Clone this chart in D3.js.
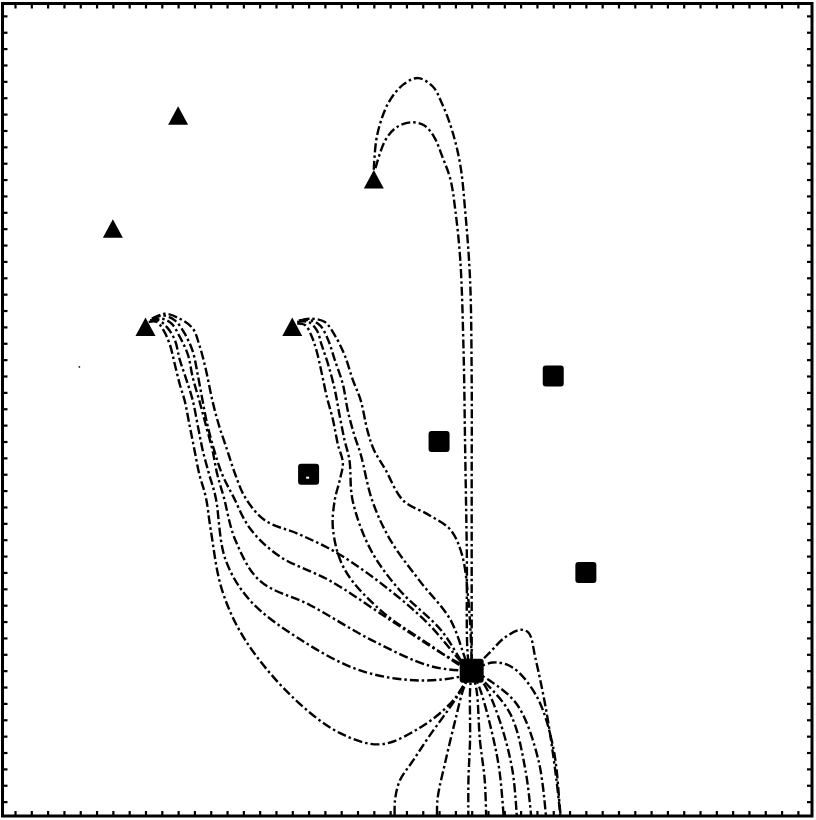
<!DOCTYPE html>
<html><head><meta charset="utf-8">
<script src="https://cdn.jsdelivr.net/npm/d3@7"></script>
<style>html,body{margin:0;padding:0;background:#fff}</style>
</head><body><svg id="chart" width="816" height="820"></svg>
<script>
// marker positions (data units)
const triangles = [[11,42.9],[7,36],[23,39],[9,30],[18,30]];
const squares = [[34,27],[27,23],[19,21],[36,15],[29,9]];
const speck = [[4.9,27.6]];
const hollowDot = [[18.85,20.85]];
const source = [29,9];

// field lines from triangle bundles to source
const bundleTop = [
  [[23.0,39.6],[23.2,41.7],[23.9,43.7],[24.8,44.8],[25.7,45.2],[26.6,44.7],[27.2,43.6],[27.8,42.0],[28.3,39.9],[28.6,37.1],[28.9,32.9],[29.0,26.8],[29.0,20.6],[29.0,14.5],[29.0,9.6]],
  [[23.1,39.7],[23.7,41.4],[24.4,42.2],[25.3,42.5],[26.1,42.3],[26.7,41.6],[27.2,40.4],[27.7,39.0],[28.0,37.1],[28.3,34.1],[28.5,28.6],[28.6,22.5],[28.7,16.4],[28.8,9.6]]
];
const bundleLeft = [
  [[9.4,30.5],[10.2,30.8],[11.1,30.5],[11.9,29.9],[12.3,28.9],[12.7,27.4],[13.1,25.5],[13.5,24.0],[14.0,22.5],[14.5,21.0],[15.1,19.6],[16.3,18.2],[18.5,17.3],[20.9,16.1],[24.0,13.9],[26.4,11.8],[28.4,9.5]],
  [[9.4,30.5],[10.1,30.7],[10.8,30.4],[11.4,29.6],[11.9,28.5],[12.2,27.1],[12.5,25.5],[12.8,24.0],[13.2,22.5],[13.7,21.0],[14.4,19.6],[15.4,17.7],[17.2,16.0],[20.3,14.5],[24.0,12.1],[27.1,10.1],[28.5,9.3]],
  [[9.3,30.4],[10.0,30.5],[10.6,30.2],[11.1,29.4],[11.6,28.3],[11.9,26.9],[12.3,25.5],[12.7,24.0],[13.1,22.5],[13.4,21.0],[13.8,19.6],[14.5,17.0],[16.0,14.5],[19.1,13.0],[22.8,10.9],[26.4,9.3],[28.5,9.0]],
  [[9.3,30.4],[9.8,30.4],[10.3,30.0],[10.8,29.2],[11.1,28.0],[11.5,26.8],[11.9,25.5],[12.2,24.0],[12.5,22.5],[12.9,21.0],[13.3,19.6],[13.9,15.8],[15.4,13.3],[18.5,10.9],[22.2,9.0],[25.8,8.4],[28.5,8.7]],
  [[9.2,30.3],[9.7,30.3],[10.1,29.8],[10.5,28.9],[10.8,27.7],[11.1,26.5],[11.4,25.5],[11.7,24.0],[12.0,22.5],[12.3,21.0],[12.7,19.6],[13.0,17.6],[13.7,13.9],[15.1,10.9],[17.9,7.5],[20.9,5.2],[23.4,4.5],[25.8,5.5],[27.7,7.0],[28.5,8.1]]
];
const bundleMid = [
  [[18.5,30.4],[19.2,30.5],[20.0,30.3],[20.6,29.5],[21.2,28.3],[21.7,26.8],[22.2,25.5],[22.6,23.7],[23.0,22.5],[23.7,21.3],[24.8,19.4],[26.4,18.5],[27.7,17.6],[28.4,16.1],[28.8,13.3],[29.0,9.6]],
  [[18.4,30.4],[19.1,30.4],[19.7,30.1],[20.2,29.2],[20.6,28.0],[21.1,26.5],[21.4,24.9],[21.8,23.4],[22.2,22.2],[22.9,19.4],[24.0,17.0],[25.8,14.5],[27.7,12.1],[28.7,9.5]],
  [[18.3,30.3],[19.0,30.3],[19.5,29.8],[19.8,28.9],[20.2,27.7],[20.6,26.2],[20.9,24.6],[21.2,23.1],[21.5,21.9],[21.7,19.4],[22.8,16.4],[24.6,13.9],[27.1,11.5],[28.6,9.3]],
  [[18.3,30.2],[18.8,30.1],[19.2,29.4],[19.5,28.5],[19.8,27.2],[20.1,25.8],[20.5,24.3],[20.8,22.8],[21.1,21.7],[20.9,20.6],[20.6,19.4],[20.5,17.6],[21.2,15.2],[23.4,12.7],[26.4,10.6],[28.5,9.2]]
];
// field lines leaving the source through the bottom edge
const bundleBottom = [
  [[28.1,7.4],[26.4,5.0],[25.4,3.5],[24.6,2.3],[24.3,1.1],[24.3,-0.5]],
  [[28.5,7.9],[28.0,6.0],[27.4,3.5],[26.9,1.1],[26.9,-0.5]],
  [[28.9,7.8],[28.9,4.8],[28.8,2.3],[28.8,-0.5]],
  [[29.3,7.8],[29.5,4.8],[29.8,2.3],[29.9,-0.5]],
  [[29.5,7.9],[30.2,5.4],[30.7,2.9],[31.0,-0.5]],
  [[29.8,8.1],[30.7,6.0],[31.5,2.9],[31.8,-0.5]],
  [[29.9,8.2],[31.4,6.3],[32.3,2.9],[32.7,-0.5]],
  [[30.1,8.4],[31.8,6.9],[33.1,3.5],[33.6,-0.5]],
  [[30.3,9.5],[31.5,9.2],[33.0,7.4],[34.0,4.3],[34.4,0.7],[34.5,-0.5]],
  [[30.1,10.1],[31.0,11.0],[32.0,11.5],[32.5,11.3],[32.9,9.8],[33.6,6.4],[34.2,2.3],[34.5,-0.5]]
];
const tickValues = d3.range(1, 50);

const svg = d3.select('#chart');
const x = d3.scaleLinear().domain([0,50]).range([-1.3, 814.2]);
const y = d3.scaleLinear().domain([0,50]).range([818, -0.5]);

const frame = {l:2.5, t:3.5, r:812, b:816};

svg.append('clipPath').attr('id','clip').append('rect')
  .attr('x',frame.l).attr('y',frame.t).attr('width',frame.r-frame.l).attr('height',frame.b-frame.t);

const line = d3.line().x(d=>x(d[0])).y(d=>y(d[1])).curve(d3.curveCatmullRom.alpha(0.5));

const toSource = [...bundleTop, ...bundleLeft, ...bundleMid].map(l => [...l, source]);
const fromSource = bundleBottom.map(l => [source, ...l]);

const g = svg.append('g').attr('clip-path','url(#clip)');
g.selectAll('path.fl').data([...toSource, ...fromSource]).join('path')
  .attr('class','fl')
  .attr('d', line)
  .attr('fill','none')
  .attr('stroke','#000')
  .attr('stroke-width',2.4)
  .attr('stroke-dasharray','9,3,2.5,3');

// axes (inward ticks, no labels)
function styleAxis(sel){
  sel.select('.domain').remove();
  sel.selectAll('.tick line').attr('stroke','#000').attr('stroke-width',2.2);
}
svg.append('g').attr('transform',`translate(0,${frame.t})`)
  .call(d3.axisBottom(x).tickValues(tickValues).tickSize(5).tickFormat('')).call(styleAxis);
svg.append('g').attr('transform',`translate(0,${frame.b})`)
  .call(d3.axisTop(x).tickValues(tickValues).tickSize(5).tickFormat('')).call(styleAxis);
svg.append('g').attr('transform',`translate(${frame.l},0)`)
  .call(d3.axisRight(y).tickValues(tickValues).tickSize(5).tickFormat('')).call(styleAxis);
svg.append('g').attr('transform',`translate(${frame.r},0)`)
  .call(d3.axisLeft(y).tickValues(tickValues).tickSize(5).tickFormat('')).call(styleAxis);

svg.append('rect').attr('x',frame.l).attr('y',frame.t)
  .attr('width',frame.r-frame.l).attr('height',frame.b-frame.t)
  .attr('fill','none').attr('stroke','#000').attr('stroke-width',3);

// markers
svg.selectAll('path.tri').data(triangles).join('path')
  .attr('class','tri')
  .attr('d', d => { const cx=x(d[0]), cy=y(d[1]); return `M${cx},${cy-9.5}L${cx+10},${cy+9}L${cx-10},${cy+9}Z`; })
  .attr('fill','#000');

const sq = 21;
svg.selectAll('rect.sq').data(squares).join('rect')
  .attr('class','sq')
  .attr('x', d => x(d[0]) - sq/2).attr('y', d => y(d[1]) - sq/2)
  .attr('width', (d,i) => i===4 ? 24 : sq).attr('height', (d,i) => i===4 ? 24 : sq)
  .attr('transform', (d,i) => i===4 ? 'translate(-1.5,-1.5)' : null)
  .attr('rx',3).attr('fill','#000');

svg.selectAll('rect.hd').data(hollowDot).join('rect')
  .attr('class','hd')
  .attr('x', d => x(d[0])).attr('y', d => y(d[1]))
  .attr('width',3).attr('height',2).attr('fill','#fff');

svg.selectAll('rect.speck').data(speck).join('rect')
  .attr('class','speck')
  .attr('x', d => x(d[0])).attr('y', d => y(d[1]))
  .attr('width',1.5).attr('height',1.5).attr('fill','#000');
</script>
</body></html>
